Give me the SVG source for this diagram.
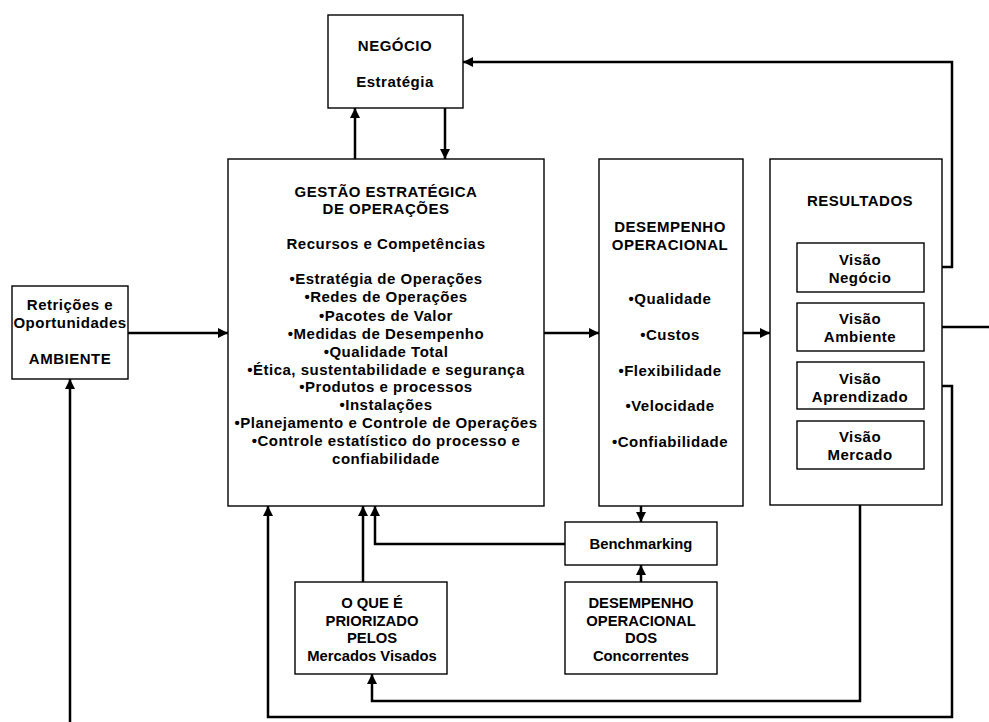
<svg xmlns="http://www.w3.org/2000/svg" width="989" height="722" viewBox="0 0 989 722">
  <style>
    .box { fill: #fff; stroke: #000; stroke-width: 1.4; }
    .t { font-family: "Liberation Sans", Arial, sans-serif; font-weight: bold; font-size: 15px; letter-spacing: 0.5px; fill: #000; text-anchor: middle; }
    .s { font-size: 14.8px; letter-spacing: 0; }
    .wire { fill: none; stroke: #000; stroke-width: 2.5; }
  </style>
  <defs>
    <marker id="arrow" viewBox="0 0 10 10" refX="10" refY="5" markerWidth="11" markerHeight="10" markerUnits="userSpaceOnUse" orient="auto">
      <path d="M0,0 L10,5 L0,10 Z" fill="#000"/>
    </marker>
  </defs>

  <rect width="989" height="722" fill="#fff"/>

  <!-- connectors -->
  <g id="connectors">
    <path class="wire" d="M355,159 V108" marker-end="url(#arrow)"/>
    <path class="wire" d="M445,108 V159" marker-end="url(#arrow)"/>
    <path class="wire" d="M924,267 H952 V62 H463" marker-end="url(#arrow)"/>
    <path class="wire" d="M924,327 H989"/>
    <path class="wire" d="M924,386 H952 V717 H268 V506" marker-end="url(#arrow)"/>
    <path class="wire" d="M860,469 V701 H372 V674" marker-end="url(#arrow)"/>
    <path class="wire" d="M70,722 V379" marker-end="url(#arrow)"/>
    <path class="wire" d="M128,333 H228" marker-end="url(#arrow)"/>
    <path class="wire" d="M544,333 H599" marker-end="url(#arrow)"/>
    <path class="wire" d="M743,333 H770" marker-end="url(#arrow)"/>
    <path class="wire" d="M363,582 V506" marker-end="url(#arrow)"/>
    <path class="wire" d="M565,544 H375 V506" marker-end="url(#arrow)"/>
    <path class="wire" d="M641,506 V522" marker-end="url(#arrow)"/>
    <path class="wire" d="M641,582 V565" marker-end="url(#arrow)"/>
  </g>

  <g id="negocio">
    <rect class="box" x="328" y="15" width="135" height="93"/>
    <text class="t" x="395" y="51">NEGÓCIO</text>
    <text class="t" x="395" y="87">Estratégia</text>
  </g>

  <g id="ambiente">
    <rect class="box" x="12" y="286" width="116" height="93"/>
    <text class="t" x="70" y="310">Retrições e</text>
    <text class="t" x="70" y="328">Oportunidades</text>
    <text class="t" x="70" y="364">AMBIENTE</text>
  </g>

  <g id="gestao">
    <rect class="box" x="228" y="159" width="316" height="347"/>
    <text class="t" x="386" y="197">GESTÃO ESTRATÉGICA</text>
    <text class="t" x="386" y="214">DE OPERAÇÕES</text>
    <text class="t" x="386" y="249">Recursos e Competências</text>
    <text class="t" x="386" y="284">•Estratégia de Operações</text>
    <text class="t" x="386" y="302">•Redes de Operações</text>
    <text class="t" x="386" y="321">•Pacotes de Valor</text>
    <text class="t" x="386" y="339">•Medidas de Desempenho</text>
    <text class="t" x="386" y="357">•Qualidade Total</text>
    <text class="t" x="386" y="375">•Ética, sustentabilidade e segurança</text>
    <text class="t" x="386" y="392">•Produtos e processos</text>
    <text class="t" x="386" y="410">•Instalações</text>
    <text class="t" x="386" y="428">•Planejamento e Controle de Operações</text>
    <text class="t" x="386" y="446">•Controle estatístico do processo e</text>
    <text class="t" x="386" y="464">confiabilidade</text>
  </g>

  <g id="desempenho">
    <rect class="box" x="599" y="159" width="144" height="347"/>
    <text class="t" x="670" y="232">DESEMPENHO</text>
    <text class="t" x="670" y="250">OPERACIONAL</text>
    <text class="t" x="670" y="304">•Qualidade</text>
    <text class="t" x="670" y="340">•Custos</text>
    <text class="t" x="670" y="376">•Flexibilidade</text>
    <text class="t" x="670" y="411">•Velocidade</text>
    <text class="t" x="670" y="447">•Confiabilidade</text>
  </g>

  <g id="resultados">
    <rect class="box" x="770" y="159" width="172" height="346"/>
    <text class="t" x="860" y="206">RESULTADOS</text>
  </g>

  <g id="visao-negocio">
    <rect class="box" x="797" y="243" width="127" height="49"/>
    <text class="t" x="860" y="265">Visão</text>
    <text class="t" x="860" y="283">Negócio</text>
  </g>

  <g id="visao-ambiente">
    <rect class="box" x="797" y="303" width="127" height="48"/>
    <text class="t" x="860" y="324">Visão</text>
    <text class="t" x="860" y="342">Ambiente</text>
  </g>

  <g id="visao-aprendizado">
    <rect class="box" x="797" y="362" width="127" height="47"/>
    <text class="t" x="860" y="384">Visão</text>
    <text class="t" x="860" y="402">Aprendizado</text>
  </g>

  <g id="visao-mercado">
    <rect class="box" x="797" y="421" width="127" height="48"/>
    <text class="t" x="860" y="442">Visão</text>
    <text class="t" x="860" y="460">Mercado</text>
  </g>

  <g id="benchmarking">
    <rect class="box" x="565" y="522" width="152" height="43"/>
    <text class="t s" x="641" y="549">Benchmarking</text>
  </g>

  <g id="mercados-visados">
    <rect class="box" x="295" y="582" width="152" height="92"/>
    <text class="t s" x="372" y="608">O QUE É</text>
    <text class="t s" x="372" y="626">PRIORIZADO</text>
    <text class="t s" x="372" y="643">PELOS</text>
    <text class="t s" x="372" y="661">Mercados Visados</text>
  </g>

  <g id="concorrentes">
    <rect class="box" x="565" y="582" width="152" height="92"/>
    <text class="t s" x="641" y="608">DESEMPENHO</text>
    <text class="t s" x="641" y="626">OPERACIONAL</text>
    <text class="t s" x="641" y="643">DOS</text>
    <text class="t s" x="641" y="661">Concorrentes</text>
  </g>
</svg>
